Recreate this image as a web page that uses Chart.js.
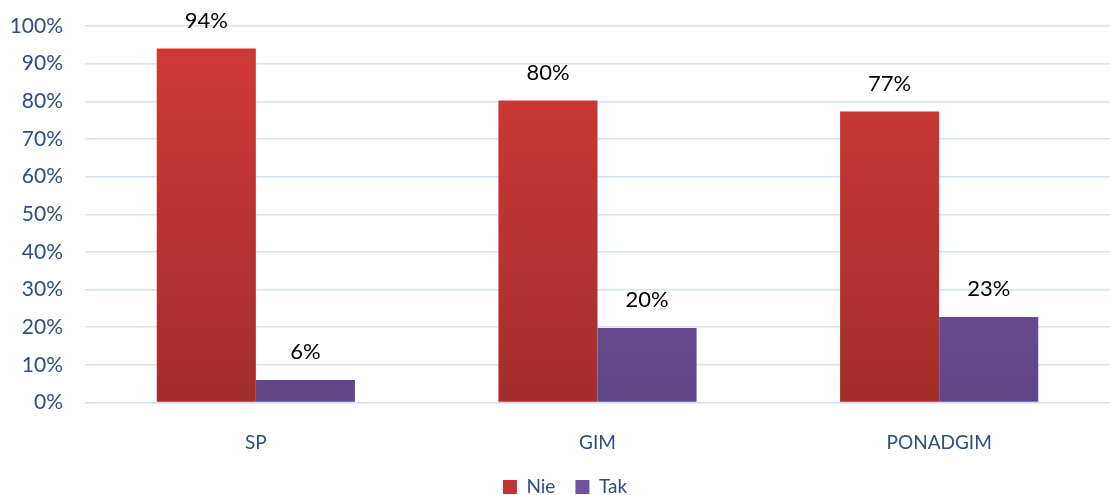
<!DOCTYPE html>
<html><head><meta charset="utf-8">
<script src="https://cdn.jsdelivr.net/npm/chart.js@4/dist/chart.umd.min.js"></script>
<style>html,body{margin:0;padding:0;background:#fff}#wrap{width:1110px;height:495px}</style>
</head><body><div id="wrap"><canvas id="c" width="1110" height="495"></canvas></div>
<script>
const categories = ["SP", "GIM", "PONADGIM"];
const nieValues = [94, 80.2, 77.3];
const takValues = [6, 19.8, 22.7];
const seriesNames = ["Nie", "Tak"];
const yTicks = [0,10,20,30,40,50,60,70,80,90,100];

const FONT = "Lato, 'Open Sans', sans-serif";
const AXIS_COLOR = "#2E4E7E";

function grad(ctx, top, bottom) {
  const ch = ctx.chart, a = ch.chartArea;
  if (!a) return top;
  const g = ch.ctx.createLinearGradient(0, a.top, 0, a.bottom);
  g.addColorStop(0, top); g.addColorStop(1, bottom);
  return g;
}

const labelPlugin = {
  id: 'valLabels',
  afterDatasetsDraw(chart) {
    const c = chart.ctx;
    c.save();
    c.font = "22px " + FONT;
    c.fillStyle = "#000";
    c.textAlign = "center";
    c.textBaseline = "middle";
    chart.data.datasets.forEach((ds, i) => {
      chart.getDatasetMeta(i).data.forEach((bar, j) => {
        c.fillText(Math.round(ds.data[j]) + "%", bar.x, bar.y - 28);
      });
    });
    c.restore();
  }
};

new Chart(document.getElementById('c'), {
  type: 'bar',
  data: {
    labels: categories,
    datasets: [
      { label: seriesNames[0], data: nieValues,
        backgroundColor: ctx => grad(ctx, "#D23A36", "#A32E2C") },
      { label: seriesNames[1], data: takValues,
        backgroundColor: ctx => grad(ctx, "#7E5BAE", "#5F4688") }
    ]
  },
  options: {
    responsive: false,
    animation: false,
    devicePixelRatio: 1,
    layout: { padding: { left: 10, right: -10, top: 26, bottom: -11.5 } },
    datasets: { bar: { categoryPercentage: 0.58, barPercentage: 1.0, borderWidth: 0 } },
    scales: {
      x: {
        afterFit: s => { s.height = 55; s.paddingLeft = 0; s.paddingRight = 0; },
        grid: { display: false, drawTicks: false },
        border: { display: true, color: "#D0DAE8" },
        ticks: { color: AXIS_COLOR, font: { family: FONT, size: 19 }, padding: 29 }
      },
      y: {
        min: 0, max: 100,
        afterFit: s => { s.width = 75; s.paddingTop = 0; s.paddingBottom = 0; },
        afterBuildTicks: s => { s.ticks = yTicks.map(v => ({ value: v })); },
        grid: { color: "#D6E2F2", lineWidth: 1.5, drawTicks: false },
        border: { display: false },
        ticks: { color: AXIS_COLOR, font: { family: FONT, size: 21 }, padding: 22,
                 callback: v => v + "%" }
      }
    },
    plugins: {
      legend: {
        position: 'bottom',
        labels: { color: AXIS_COLOR, font: { family: FONT, size: 19 }, boxWidth: 14, boxHeight: 14, padding: 20,
          generateLabels: ch => ch.data.datasets.map((d, i) => ({
            text: d.label, fillStyle: i === 0 ? "#C23331" : "#7252A0", strokeStyle: "transparent", lineWidth: 0,
            fontColor: AXIS_COLOR, datasetIndex: i, hidden: false }))
        }
      },
      tooltip: { enabled: false }
    }
  },
  plugins: [labelPlugin]
});
</script></body></html>
